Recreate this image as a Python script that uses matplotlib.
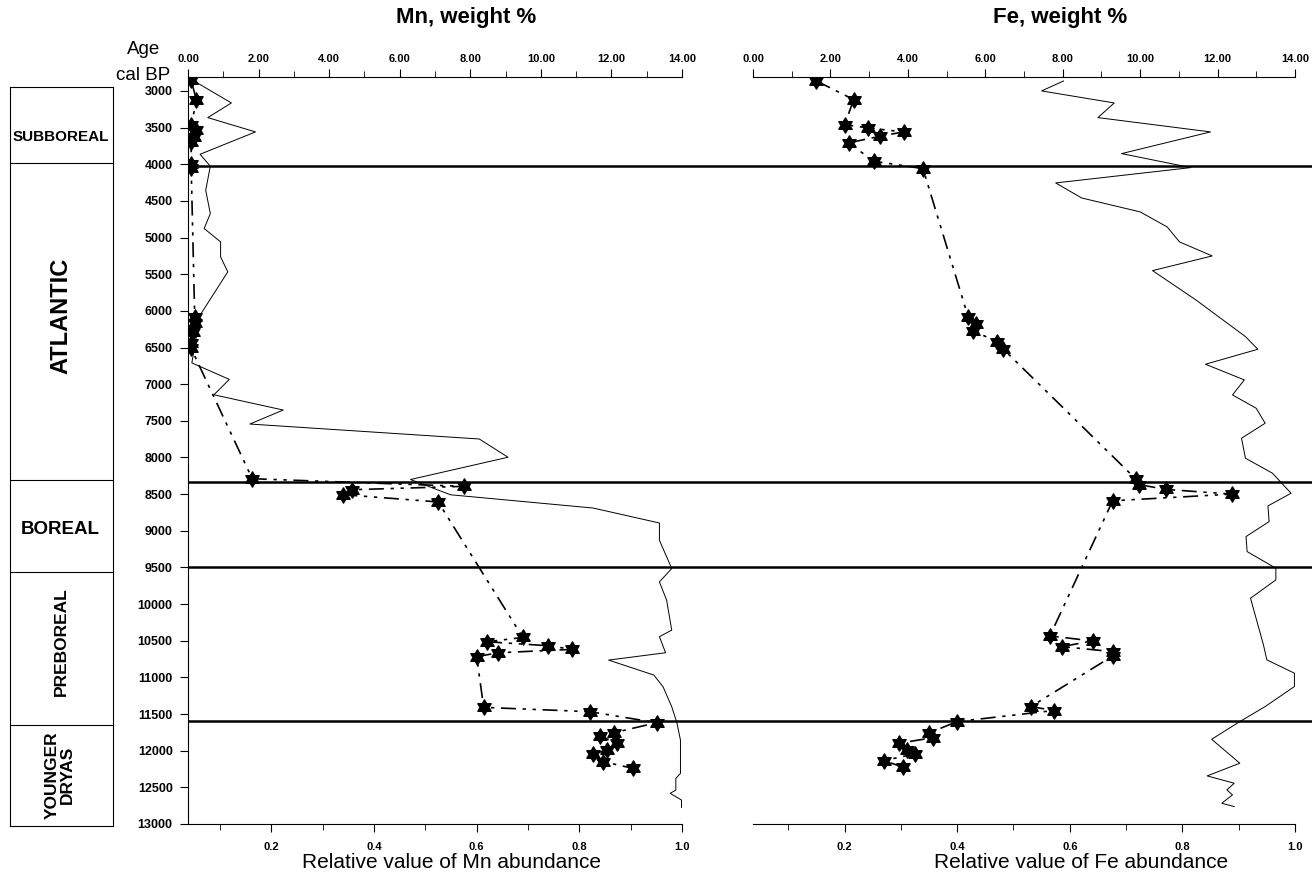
import numpy as np
import matplotlib
matplotlib.use("Agg")
import matplotlib.pyplot as plt
from matplotlib.path import Path
from matplotlib.ticker import MultipleLocator, FormatStrFormatter

plt.rcParams['font.family'] = ['Liberation Sans', 'DejaVu Sans']

# ---- data ----
# Mn, weight % (stars, top axis)
mn_age = [2855, 3127, 3468, 3536, 3627, 3695, 3990, 4045, 6082, 6172, 6286, 6445, 6513,
          8290, 8394, 8440, 8507, 8607, 10455, 10514, 10568, 10618, 10664, 10718,
          11409, 11468, 11618, 11755, 11800, 11900, 11991, 12045, 12150, 12241]
mn_wt = [0.09, 0.24, 0.09, 0.24, 0.17, 0.09, 0.09, 0.09, 0.19, 0.19, 0.14, 0.09, 0.09,
         1.82, 7.81, 4.65, 4.39, 7.09, 9.49, 8.48, 10.2, 10.89, 8.79, 8.18,
         8.38, 11.39, 13.28, 12.07, 11.69, 12.17, 11.87, 11.49, 11.77, 12.61]

# relative Mn abundance (thin line, bottom axis)
mn_rel_age = [2855, 3164, 3364, 3559, 3864, 4027, 4355, 4673, 4877, 5059, 5264, 5468,
              6059, 6710, 6935, 7145, 7353, 7544, 7748, 7997, 8301, 8509, 8690, 8894,
              9130, 9515, 9697, 9946, 10355, 10445, 10664, 10764, 10968, 11127, 11400,
              11618, 11855, 12309, 12377, 12536, 12582, 12673, 12773]
mn_rel = [0.047, 0.122, 0.076, 0.169, 0.061, 0.081, 0.072, 0.081, 0.069, 0.101, 0.101, 0.115,
          0.061, 0.045, 0.118, 0.088, 0.223, 0.158, 0.605, 0.661, 0.471, 0.549, 0.827, 0.956,
          0.956, 0.980, 0.956, 0.970, 0.980, 0.956, 0.968, 0.857, 0.945, 0.963, 0.980,
          0.990, 0.997, 0.997, 0.988, 0.988, 0.977, 0.999, 0.999]

# Fe, weight % (stars, top axis)
fe_age = [2864, 3118, 3459, 3505, 3559, 3618, 3709, 3959, 4059, 6087, 6178, 6269, 6419, 6524,
          8300, 8370, 8436, 8500, 8591, 10434, 10503, 10580, 10649, 10708,
          11398, 11452, 11603, 11758, 11822, 11898, 11989, 12044, 12135, 12226]
fe_wt = [1.64, 2.60, 2.37, 2.97, 3.89, 3.28, 2.47, 3.12, 4.39, 5.56, 5.75, 5.68, 6.29, 6.47,
         9.90, 9.97, 10.67, 12.36, 9.29, 7.67, 8.77, 7.98, 9.29, 9.29,
         7.18, 7.77, 5.27, 4.55, 4.65, 3.78, 3.99, 4.18, 3.38, 3.88]

# relative Fe abundance (thin line, bottom axis)
fe_rel_age = [2864, 3000, 3164, 3364, 3559, 3855, 4046, 4255, 4460, 4650, 4855, 5060, 5251,
              5451, 5851, 6351, 6524, 6728, 6942, 7147, 7328, 7533, 7738, 8010, 8215, 8488,
              8661, 8875, 9079, 9284, 9511, 9670, 9920, 10557, 10761, 10943, 11125, 11398,
              11603, 11844, 12171, 12344, 12444, 12535, 12603, 12717, 12762]
fe_rel = [0.589, 0.550, 0.679, 0.650, 0.850, 0.692, 0.815, 0.575, 0.621, 0.725, 0.773, 0.795, 0.853,
          0.747, 0.824, 0.912, 0.934, 0.841, 0.910, 0.889, 0.931, 0.947, 0.905, 0.912, 0.960, 0.993,
          0.952, 0.954, 0.913, 0.915, 0.966, 0.966, 0.921, 0.944, 0.950, 0.999, 0.999, 0.947,
          0.902, 0.852, 0.902, 0.844, 0.892, 0.879, 0.889, 0.870, 0.892]

# chronozone boundaries (plot lines) and stratigraphic column
boundaries = [4020, 8340, 9500, 11600]
column_breaks = [3980, 8310, 9560, 11650]
periods = ['SUBBOREAL', 'ATLANTIC', 'BOREAL', 'PREBOREAL', 'YOUNGER\nDRYAS']

# ---- layout helpers ----
W, H = 1312, 875
AGE_TOP, AGE_BOT = 2810, 13000
AX_TOP, AX_BOT = 77, 824
age_per_px = (AGE_BOT - AGE_TOP) / (AX_BOT - AX_TOP)


def px_box(left, top, right, bottom):
    return [left / W, 1 - bottom / H, (right - left) / W, (bottom - top) / H]


def ftext(x, y, s, **kw):
    fig.text(x / W, 1 - y / H, s, ha='center', va='center', **kw)


# six-pointed star marker
k = np.arange(12)
ang = np.deg2rad(90 + k * 30)
rad = np.where(k % 2 == 0, 1.0, 1 / np.sqrt(3))
verts = np.column_stack([rad * np.cos(ang), rad * np.sin(ang)])
verts = np.vstack([verts, verts[:1]])
hexagram = Path(verts, [Path.MOVETO] + [Path.LINETO] * 11 + [Path.CLOSEPOLY])

fig = plt.figure(figsize=(13.12, 8.75), dpi=100)


def make_panel(rect, rel_age, rel, st_age, st_wt, show_y):
    ax = fig.add_axes(rect)
    ax.set_ylim(AGE_BOT, AGE_TOP)
    ax.set_xlim(0.0375, 1.0)
    ax.plot(rel, rel_age, color='black', lw=0.7)
    for s in ['top', 'right']:
        ax.spines[s].set_visible(False)
    ax.spines['left'].set_visible(show_y)
    ax.xaxis.set_major_locator(MultipleLocator(0.2))
    ax.xaxis.set_minor_locator(MultipleLocator(0.1))
    ax.xaxis.set_major_formatter(FormatStrFormatter('%.1f'))
    ax.tick_params(axis='x', which='major', direction='out', length=6, pad=7, labelsize=8)
    ax.tick_params(axis='x', which='minor', direction='out', length=4)
    if show_y:
        ax.yaxis.set_major_locator(MultipleLocator(500))
        ax.tick_params(axis='y', direction='out', length=6, pad=5, labelsize=9)
        for lab in ax.get_yticklabels():
            lab.set_fontweight('bold')
    else:
        ax.tick_params(axis='y', left=False, labelleft=False)
    for lab in ax.get_xticklabels():
        lab.set_fontweight('bold')

    top = ax.twiny()
    top.set_xlim(0, 14)
    top.plot(st_wt, st_age, color='black', lw=1.2, dashes=[9, 4, 2, 4, 2, 4],
             marker=hexagram, ms=11, mfc='black', mec='black')
    for s in ['left', 'right', 'bottom']:
        top.spines[s].set_visible(False)
    top.xaxis.set_major_locator(MultipleLocator(2))
    top.xaxis.set_minor_locator(MultipleLocator(1))
    top.xaxis.set_major_formatter(FormatStrFormatter('%.2f'))
    top.tick_params(axis='x', which='major', direction='out', length=6, pad=3, labelsize=8)
    top.tick_params(axis='x', which='minor', direction='out', length=4)
    for lab in top.get_xticklabels():
        lab.set_fontweight('bold')
    return ax, top


make_panel(px_box(188, AX_TOP, 682, AX_BOT), mn_rel_age, mn_rel, mn_age, mn_wt, True)
make_panel(px_box(753, AX_TOP, 1295, AX_BOT), fe_rel_age, fe_rel, fe_age, fe_wt, False)

# boundary lines running across both panels
ax_lines = fig.add_axes(px_box(188, AX_TOP, 1312, AX_BOT))
ax_lines.set_ylim(AGE_BOT, AGE_TOP)
ax_lines.set_xlim(0, 1)
ax_lines.axis('off')
for b in boundaries:
    ax_lines.axhline(b, color='black', lw=1.8)

# stratigraphic column
col_top, col_bot = 87, 826
axc = fig.add_axes(px_box(10, col_top, 113, col_bot))
axc.set_ylim(AGE_TOP + (col_bot - AX_TOP) * age_per_px, AGE_TOP + (col_top - AX_TOP) * age_per_px)
axc.set_xlim(0, 1)
axc.set_xticks([])
axc.set_yticks([])
for s in axc.spines.values():
    s.set_linewidth(0.8)
for b in column_breaks:
    axc.axhline(b, color='black', lw=0.8)

ftext(61, 137, periods[0], fontsize=11, fontweight='bold')
ftext(61, 316, periods[1], fontsize=17, fontweight='bold', rotation=90)
ftext(60, 530, periods[2], fontsize=13.5, fontweight='bold')
ftext(61, 642, periods[3], fontsize=12.5, fontweight='bold', rotation=90)
ftext(60, 775, periods[4], fontsize=12.5, fontweight='bold', rotation=90, linespacing=1.0)

# titles and axis captions
ftext(144, 50, 'Age', fontsize=13.5)
ftext(143, 76, 'cal BP', fontsize=13.5)
ftext(466, 17, 'Mn, weight %', fontsize=16, fontweight='bold')
ftext(1060, 17, 'Fe, weight %', fontsize=16, fontweight='bold')
ftext(452, 862, 'Relative value of Mn abundance', fontsize=15)
ftext(1081, 862, 'Relative value of Fe abundance', fontsize=15)

fig.savefig('out.png', dpi=100)
